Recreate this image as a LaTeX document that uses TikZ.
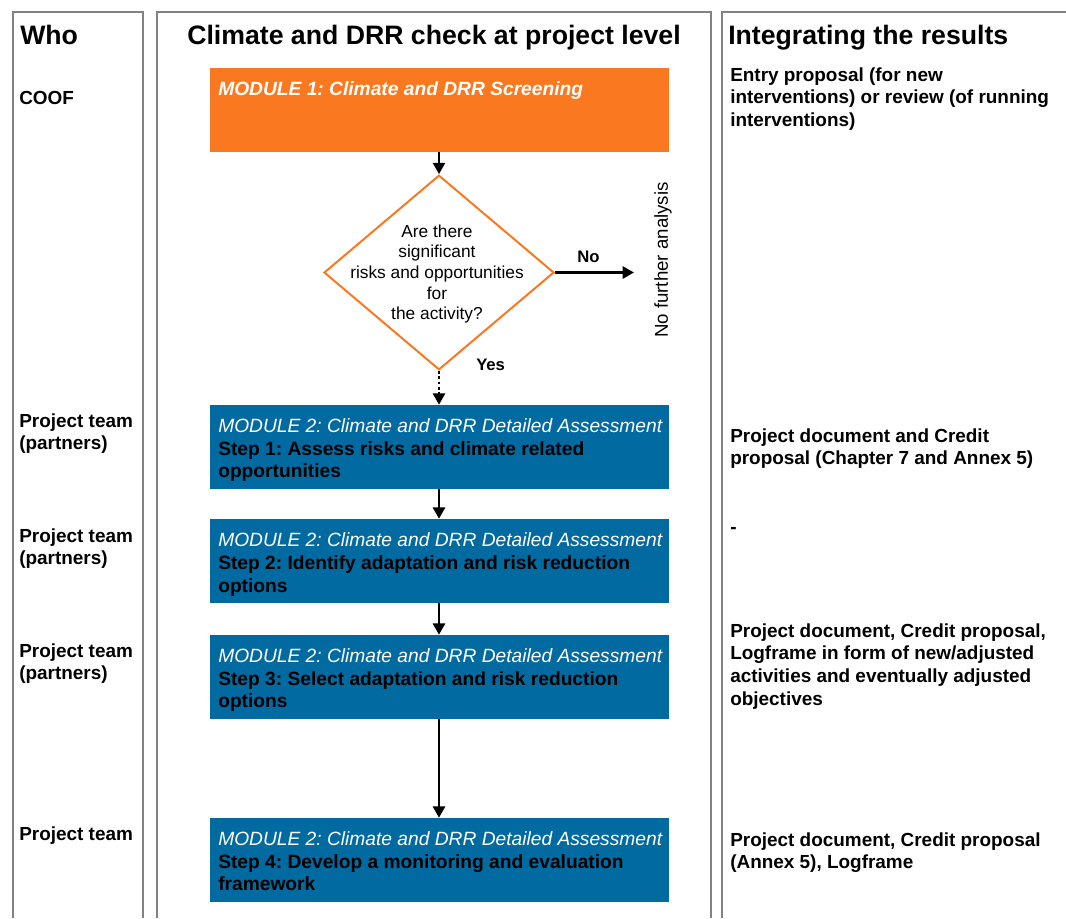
\documentclass[tikz,border=0pt]{standalone}
\usepackage{fontspec}
\setmainfont{Liberation Sans}
\usetikzlibrary{arrows.meta,shapes.geometric}
\definecolor{orng}{RGB}{250,121,32}
\definecolor{dblue}{RGB}{0,106,161}
\definecolor{pgray}{RGB}{130,130,130}
\newcommand\mlines[1]{\begin{tabular}[t]{@{}l@{}}#1\end{tabular}}
\frenchspacing
\begin{document}
\begin{tikzpicture}[x=0.75pt,y=-0.75pt,
  panel/.style={draw=pgray,line width=1.6pt},
  titletext/.style={anchor=base west,inner sep=0pt,font=\fontsize{20}{24}\selectfont\bfseries},
  bodytext/.style={anchor=base west,inner sep=0pt,font=\fontsize{14.2}{17.1}\selectfont\bfseries},
  boxtext/.style={anchor=base west,inner sep=0pt,font=\fontsize{14.4}{17.1}\selectfont\bfseries},
  orangebox/.style={fill=orng,draw=none,inner sep=0pt,minimum width=344.25pt,minimum height=63pt},
  bluebox/.style={fill=dblue,draw=none,inner sep=0pt,minimum width=344.25pt,minimum height=63pt},
  decision/.style={diamond,draw=orng,line width=1.5pt,inner sep=0pt,minimum width=172.5pt,minimum height=146pt},
  flow/.style={line width=2pt,-{Triangle[length=8.5pt,width=9pt]}},
  answer/.style={anchor=base west,inner sep=0pt,font=\fontsize{12.5}{15}\selectfont\bfseries},
]
\useasboundingbox (0,0) rectangle (1066,918);
\fill[white] (0,0) rectangle (1066,918);

% panels
\draw[panel] (12.7,918) -- (12.7,12) -- (143,12) -- (143,918);
\draw[panel] (157,918) -- (157,12) -- (711,12) -- (711,918);
\draw[panel] (722,918) -- (722,12) -- (1066,12);

% headers
\node[titletext] (hwho) at (20,44) {Who};
\node[titletext] (hcheck) at (187,44) {Climate and DRR check at project level};
\node[titletext] (hint) at (728,44) {Integrating the results};

% left column
\node[bodytext] (w0) at (19,104) {COOF};
\node[bodytext] (w1) at (19,427) {\mlines{Project team\\(partners)}};
\node[bodytext] (w2) at (19,542) {\mlines{Project team\\(partners)}};
\node[bodytext] (w3) at (19,657) {\mlines{Project team\\(partners)}};
\node[bodytext] (w4) at (19,840) {Project team};

% right column
\node[bodytext] (r0) at (730,81) {\mlines{Entry proposal (for new\\interventions) or review (of running\\interventions)}};
\node[bodytext] (r1) at (730,442) {\mlines{Project document and Credit\\proposal (Chapter 7 and Annex 5)}};
\node[bodytext] (r2) at (730,533) {-};
\node[bodytext] (r3) at (730,637) {\mlines{Project document, Credit proposal,\\Logframe in form of new/adjusted\\activities and eventually adjusted\\objectives}};
\node[bodytext] (r4) at (730,846) {\mlines{Project document, Credit proposal\\(Annex 5), Logframe}};

% boxes
\node[orangebox] (m1) at (439.5,110) {};
\node[boxtext,text=white] (m1t) at (218,95) {\itshape MODULE 1: Climate and DRR Screening};

\node[decision] (dia) at (439,272.5) {};
\node[align=center,inner sep=0pt,font=\fontsize{13}{15.5}\selectfont] (diat) at (437,274)
  {Are there\\significant\\risks and opportunities\\for\\the activity?};

\node[bluebox] (b1) at (439.5,447) {};
\node[boxtext] (b1t) at (218,432.3) {\mlines{{\color{white}\mdseries\itshape MODULE 2: Climate and DRR Detailed Assessment}\\Step 1: Assess risks and climate related\\opportunities}};
\node[bluebox] (b2) at (439.5,561) {};
\node[boxtext] (b2t) at (218,546.5) {\mlines{{\color{white}\mdseries\itshape MODULE 2: Climate and DRR Detailed Assessment}\\Step 2: Identify adaptation and risk reduction\\options}};
\node[bluebox] (b3) at (439.5,677) {};
\node[boxtext] (b3t) at (218,662.3) {\mlines{{\color{white}\mdseries\itshape MODULE 2: Climate and DRR Detailed Assessment}\\Step 3: Select adaptation and risk reduction\\options}};
\node[bluebox] (b4) at (439.5,860) {};
\node[boxtext] (b4t) at (218,845.3) {\mlines{{\color{white}\mdseries\itshape MODULE 2: Climate and DRR Detailed Assessment}\\Step 4: Develop a monitoring and evaluation\\framework}};

% connectors
\coordinate (nfend) at (634,272.5);
\draw[flow] (m1.south -| dia.north) -- (dia.north);
\draw[flow] (dia.east) -- (nfend);
\draw[flow,dotted] (dia.south) -- (dia.south |- b1.north);
\draw[flow] (b1.south -| dia.south) -- (b2.north -| dia.south);
\draw[flow] (b2.south -| dia.south) -- (b3.north -| dia.south);
\draw[flow] (b3.south -| dia.south) -- (b4.north -| dia.south);

% labels
\node[answer] (no) at (577,262) {No};
\node[answer] (yes) at (476,370) {Yes};
\node[rotate=90,inner sep=0pt,font=\fontsize{14}{17}\selectfont] (nfa) at (663,260) {No further analysis};
\end{tikzpicture}
\end{document}
